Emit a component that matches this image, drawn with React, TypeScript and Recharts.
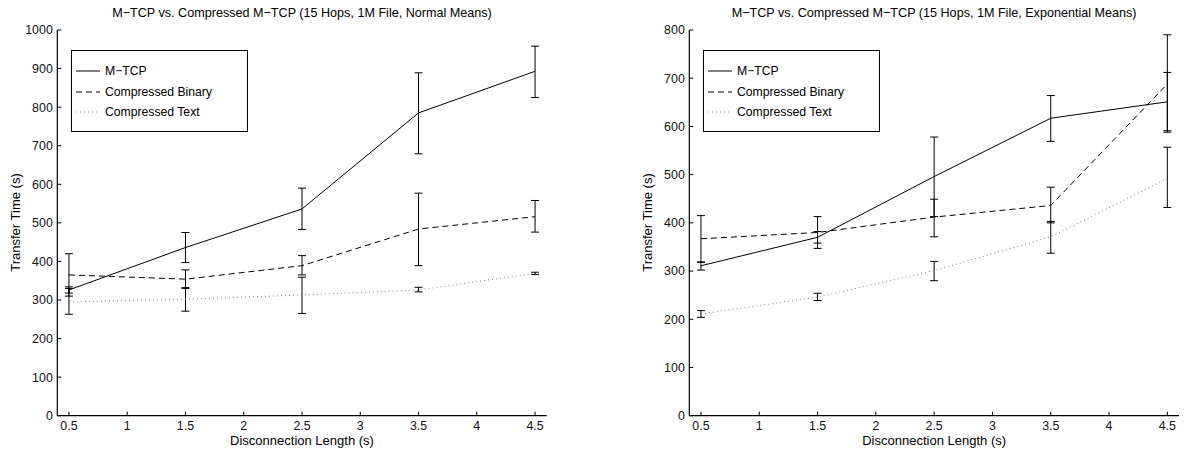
import React from 'react';
import { LineChart, Line, XAxis, YAxis, ErrorBar, Legend } from 'recharts';

// Disconnection lengths (s)
const xValues = [0.5, 1.5, 2.5, 3.5, 4.5];
const xTicks = [0.5, 1, 1.5, 2, 2.5, 3, 3.5, 4, 4.5];

// Normal means: transfer time (s), with error bar ends
const normalMtcp = [326, 436, 536, 785, 893];
const normalMtcpLow = [318, 397, 483, 679, 825];
const normalMtcpHigh = [334, 475, 590, 889, 958];
const normalBinary = [365, 354, 389, 484, 516];
const normalBinaryLow = [310, 332, 365, 389, 476];
const normalBinaryHigh = [420, 378, 415, 577, 558];
const normalText = [295, 302, 313, 326, 369];
const normalTextLow = [263, 271, 265, 321, 366];
const normalTextHigh = [330, 330, 359, 333, 372];
const normalYTicks = [0, 100, 200, 300, 400, 500, 600, 700, 800, 900, 1000];

// Exponential means
const expMtcp = [311, 370, 496, 617, 651];
const expMtcpLow = [302, 358, 413, 569, 591];
const expMtcpHigh = [319, 382, 578, 664, 712];
const expBinary = [367, 380, 412, 436, 688];
const expBinaryLow = [318, 347, 371, 400, 588];
const expBinaryHigh = [415, 413, 449, 474, 790];
const expText = [211, 246, 301, 371, 492];
const expTextLow = [204, 239, 280, 337, 432];
const expTextHigh = [218, 254, 320, 403, 557];
const expYTicks = [0, 100, 200, 300, 400, 500, 600, 700, 800];

const FONT = '"Liberation Sans", Arial, Helvetica, sans-serif';

const buildRows = (
    m: number[], mLo: number[], mHi: number[],
    b: number[], bLo: number[], bHi: number[],
    t: number[], tLo: number[], tHi: number[],
) =>
    xValues.map((x, i) => ({
        x,
        m: m[i],
        mErr: [m[i] - mLo[i], mHi[i] - m[i]],
        b: b[i],
        bErr: [b[i] - bLo[i], bHi[i] - b[i]],
        t: t[i],
        tErr: [t[i] - tLo[i], tHi[i] - t[i]],
    }));

const normalRows = buildRows(
    normalMtcp, normalMtcpLow, normalMtcpHigh,
    normalBinary, normalBinaryLow, normalBinaryHigh,
    normalText, normalTextLow, normalTextHigh,
);
const expRows = buildRows(
    expMtcp, expMtcpLow, expMtcpHigh,
    expBinary, expBinaryLow, expBinaryHigh,
    expText, expTextLow, expTextHigh,
);

const seriesStyles = [
    { key: 'm', name: 'M\u2212TCP', stroke: '#000', dash: undefined as string | undefined },
    { key: 'b', name: 'Compressed Binary', stroke: '#000', dash: '6 4' },
    { key: 't', name: 'Compressed Text', stroke: '#808080', dash: '1 3' },
];

const LegendBox = () => (
    <div
        style={{
            width: 175,
            height: 80,
            border: '1px solid #000',
            background: '#fff',
            fontFamily: FONT,
            fontSize: 12.2,
            color: '#000',
            boxSizing: 'content-box',
        }}
    >
        {seriesStyles.map((s, i) => (
            <div
                key={s.key}
                style={{
                    position: 'absolute',
                    left: 0,
                    top: 13 + i * 20.7,
                    height: 16,
                    display: 'flex',
                    alignItems: 'center',
                }}
            >
                <svg width={34} height={16} style={{ display: 'block' }}>
                    <line
                        x1={5}
                        y1={8}
                        x2={29}
                        y2={8}
                        stroke={s.stroke}
                        strokeWidth={1}
                        strokeDasharray={s.dash}
                    />
                </svg>
                <span style={{ whiteSpace: 'nowrap' }}>{s.name}</span>
            </div>
        ))}
    </div>
);

interface PanelProps {
    left: number;
    width: number;
    rightMargin: number;
    title: string;
    rows: ReturnType<typeof buildRows>;
    yMax: number;
    yTicks: number[];
}

const Panel: React.FC<PanelProps> = ({ left, width, rightMargin, title, rows, yMax, yTicks }) => {
    const plotLeft = 57.3;
    const plotRight = width - rightMargin;
    const centerX = (plotLeft + plotRight) / 2;
    const tickStyle = { fill: '#111', fontSize: 12.4, fontFamily: FONT };
    return (
        <div style={{ position: 'absolute', left, top: 0, width, height: 451 }}>
            <div
                style={{
                    position: 'absolute',
                    left: centerX - 300,
                    width: 600,
                    top: 6,
                    textAlign: 'center',
                    fontFamily: FONT,
                    fontSize: 12.6,
                    color: '#000',
                    whiteSpace: 'nowrap',
                }}
            >
                {title}
            </div>
            <div
                style={{
                    position: 'absolute',
                    left: centerX - 200,
                    width: 400,
                    top: 433,
                    textAlign: 'center',
                    fontFamily: FONT,
                    fontSize: 13,
                    color: '#000',
                }}
            >
                Disconnection Length (s)
            </div>
            <div
                style={{
                    position: 'absolute',
                    left: 15 - 100,
                    width: 200,
                    top: 223 - 8,
                    textAlign: 'center',
                    fontFamily: FONT,
                    fontSize: 13,
                    color: '#000',
                    transform: 'rotate(-90deg)',
                }}
            >
                Transfer Time (s)
            </div>
            <div style={{ position: 'absolute', left: 0, top: 0 }}>
                <LineChart
                    width={width}
                    height={451}
                    data={rows}
                    margin={{ top: 30, right: rightMargin, bottom: 0, left: 0 }}
                >
                    <XAxis
                        dataKey="x"
                        type="number"
                        domain={[0.4, 4.6]}
                        ticks={xTicks}
                        height={35.3}
                        tickSize={-4}
                        tickMargin={9}
                        tick={tickStyle}
                        axisLine={{ stroke: '#000', strokeWidth: 1.2 }}
                        tickLine={{ stroke: '#000' }}
                        interval={0}
                    />
                    <XAxis
                        xAxisId="top"
                        orientation="top"
                        dataKey="x"
                        type="number"
                        domain={[0.4, 4.6]}
                        ticks={xTicks}
                        height={0}
                        tickSize={-4}
                        tickFormatter={() => ''}
                        axisLine={{ stroke: '#000', strokeWidth: 1.2 }}
                        tickLine={{ stroke: '#000' }}
                        interval={0}
                    />
                    <YAxis
                        type="number"
                        domain={[0, yMax]}
                        ticks={yTicks}
                        width={plotLeft}
                        tickSize={-4}
                        tickMargin={8.5}
                        tick={tickStyle}
                        axisLine={{ stroke: '#000', strokeWidth: 1.2 }}
                        tickLine={{ stroke: '#000' }}
                        interval={0}
                    />
                    <YAxis
                        yAxisId="r"
                        orientation="right"
                        type="number"
                        domain={[0, yMax]}
                        ticks={yTicks}
                        width={0}
                        tickSize={-4}
                        tickFormatter={() => ''}
                        axisLine={{ stroke: '#000', strokeWidth: 1.2 }}
                        tickLine={{ stroke: '#000' }}
                        interval={0}
                    />
                    <Legend
                        layout="vertical"
                        align="center"
                        verticalAlign="middle"
                        content={<LegendBox />}
                        wrapperStyle={{ left: 71, top: 50, width: 177, height: 82 }}
                    />
                    {seriesStyles.map((s) => (
                        <Line
                            key={s.key}
                            dataKey={s.key}
                            name={s.name}
                            type="linear"
                            stroke={s.stroke}
                            strokeWidth={1}
                            strokeDasharray={s.dash}
                            dot={false}
                            activeDot={false}
                            isAnimationActive={false}
                        >
                            <ErrorBar
                                dataKey={`${s.key}Err`}
                                direction="y"
                                width={4}
                                stroke="#000"
                                strokeWidth={1}
                                isAnimationActive={false}
                            />
                        </Line>
                    ))}
                </LineChart>
            </div>
        </div>
    );
};

export default function App() {
    return (
        <div
            style={{
                position: 'absolute',
                left: 0,
                top: 0,
                width: 1184,
                height: 451,
                background: '#fff',
                overflow: 'hidden',
            }}
        >
            <Panel
                left={0}
                width={560}
                rightMargin={13.3}
                title={'M\u2212TCP vs. Compressed M\u2212TCP (15 Hops, 1M File, Normal Means)'}
                rows={normalRows}
                yMax={1000}
                yTicks={normalYTicks}
            />
            <Panel
                left={632}
                width={552}
                rightMargin={5}
                title={'M\u2212TCP vs. Compressed M\u2212TCP (15 Hops, 1M File, Exponential Means)'}
                rows={expRows}
                yMax={800}
                yTicks={expYTicks}
            />
        </div>
    );
}
